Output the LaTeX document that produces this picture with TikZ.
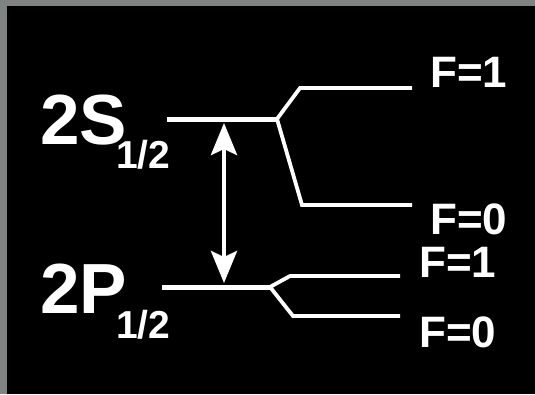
\documentclass[tikz,border=0pt]{standalone}
\usepackage{fontspec}
\setmainfont{Liberation Sans}
\usetikzlibrary{arrows.meta}
\definecolor{framegray}{HTML}{7F8381}
\tikzset{
  level/.style={draw=white, line width=5pt},
  sublevel/.style={draw=white, line width=3.8pt},
  big/.style={text=white, inner sep=0pt, anchor=base west, font=\bfseries\fontsize{71}{71}\selectfont},
  sub/.style={text=white, inner sep=0pt, anchor=base west, font=\bfseries\fontsize{39}{39}\selectfont},
  flabel/.style={text=white, inner sep=0pt, anchor=base west, font=\bfseries\fontsize{44}{44}\selectfont},
  transition/.style={draw=white, line width=4.5pt, {Stealth[length=32pt, width=26pt, inset=6pt]}-{Stealth[length=32pt, width=26pt, inset=6pt]}}
}
\begin{document}
\begin{tikzpicture}[x=1pt,y=-1pt]
\fill[framegray] (0,0) rectangle (535,394);
\fill[black] (7,6) rectangle (535,394);
\useasboundingbox (0,0) rectangle (535,394);
% coordinates
\coordinate (Sl) at (167,119);
\coordinate (Ss) at (277,119);
\coordinate (S1a) at (300,88);
\coordinate (S1b) at (412,88);
\coordinate (S0a) at (302,205);
\coordinate (S0b) at (412,205);
\coordinate (Pl) at (162,287);
\coordinate (Ps) at (270,287);
\coordinate (P1a) at (290,276);
\coordinate (P1b) at (400,276);
\coordinate (P0a) at (293,316);
\coordinate (P0b) at (400,316);
\coordinate (At) at (224,123);
\coordinate (Ab) at (224,283);
% levels
\draw[level] (Sl) -- (Ss);
\draw[sublevel] (Ss) -- (S1a) -- (S1b);
\draw[sublevel] (Ss) -- (S0a) -- (S0b);
\draw[level] (Pl) -- (Ps);
\draw[sublevel] (Ps) -- (P1a) -- (P1b);
\draw[sublevel] (Ps) -- (P0a) -- (P0b);
% transition
\draw[transition] (At) -- (Ab);
% labels
\node[big] (S) at (40,144) {2S};
\node[sub] (Ssub) at (116,168) {1/2};
\node[big] (P) at (40,313) {2P};
\node[sub] (Psub) at (116,338) {1/2};
\node[flabel] (SF1) at (430,87) {F=1};
\node[flabel] (SF0) at (430,234) {F=0};
\node[flabel] (PF1) at (419,277) {F=1};
\node[flabel] (PF0) at (419,347) {F=0};
\end{tikzpicture}
\end{document}
